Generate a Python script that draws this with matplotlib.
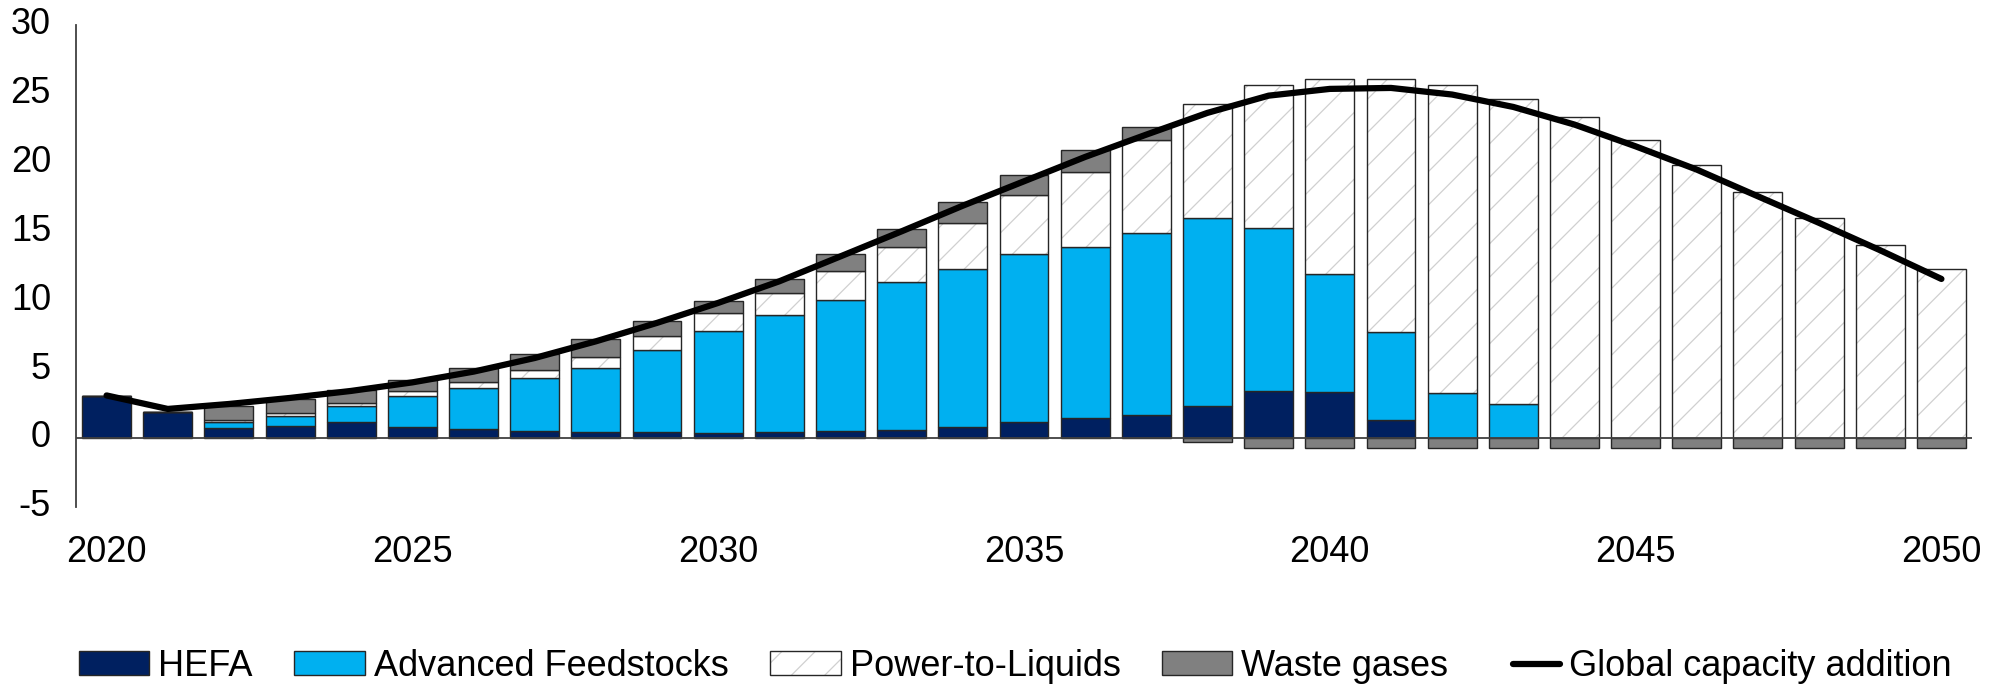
import numpy as np
import matplotlib
matplotlib.use("Agg")
import matplotlib.pyplot as plt
import matplotlib.transforms as mtransforms
from matplotlib.legend_handler import HandlerLine2D

plt.rcParams['font.family'] = ['Liberation Sans', 'DejaVu Sans']
plt.rcParams['axes.unicode_minus'] = False
plt.rcParams['hatch.linewidth'] = 0.9

# data
years = list(range(2020, 2051))
hefa = [3.09, 1.87, 0.74, 0.91, 1.15, 0.78, 0.67, 0.49, 0.45, 0.42,
        0.38, 0.42, 0.49, 0.62, 0.78, 1.15, 1.47, 1.71, 2.36, 3.45,
        3.36, 1.34, 0.0, 0.0, 0.0, 0.0, 0.0, 0.0, 0.0, 0.0, 0.0]
adv_feed = [0.0, 0.0, 0.44, 0.72, 1.16, 2.26, 2.98, 3.88, 4.65, 6.01,
            7.38, 8.50, 9.57, 10.69, 11.51, 12.23, 12.42, 13.19, 13.63, 11.82,
            8.59, 6.37, 3.28, 2.48, 0.0, 0.0, 0.0, 0.0, 0.0, 0.0, 0.0]
ptl = [0.0, 0.0, 0.11, 0.20, 0.25, 0.36, 0.43, 0.55, 0.80, 0.96,
       1.33, 1.62, 2.05, 2.58, 3.34, 4.30, 5.44, 6.73, 8.28, 10.35,
       14.16, 18.40, 22.34, 22.17, 23.33, 21.68, 19.84, 17.88, 15.96, 14.05, 12.29]
waste_gas = [0.0, 0.0, 1.02, 1.04, 0.96, 0.85, 1.02, 1.19, 1.30, 1.09,
             0.84, 1.02, 1.29, 1.32, 1.52, 1.43, 1.62, 0.97, -0.31, -0.71,
             -0.71, -0.71, -0.71, -0.71, -0.71, -0.71, -0.71, -0.71, -0.71, -0.71, -0.71]
capacity = [3.10, 2.12, 2.48, 2.92, 3.43, 4.05, 4.83, 5.82, 7.03, 8.37,
            9.82, 11.39, 13.20, 15.02, 16.88, 18.65, 20.42, 22.04, 23.62, 24.87,
            25.36, 25.43, 24.95, 24.05, 22.77, 21.19, 19.50, 17.56, 15.63, 13.64, 11.56]
labels = ['HEFA', 'Advanced Feedstocks', 'Power-to-Liquids', 'Waste gases',
          'Global capacity addition']

col_hefa = '#002060'
col_af = '#00B0F0'
col_wg = '#808080'
col_edge = '#262626'


class ShortLine(HandlerLine2D):
    # shorter legend line, pushed against its label
    def create_artists(self, legend, orig_handle, xdescent, ydescent,
                       width, height, fontsize, trans):
        new_w = width * 0.68
        return super().create_artists(legend, orig_handle, xdescent - (width - new_w),
                                      ydescent, new_w, height, fontsize, trans)


x = np.array(years)
hefa_a = np.array(hefa)
af_a = np.array(adv_feed)
ptl_a = np.array(ptl)
wg_a = np.array(waste_gas)

fig = plt.figure(figsize=(20.07, 6.84), dpi=100)
ax = fig.add_axes([76 / 2007, 1 - 507 / 684, (1972 - 76) / 2007, (507 - 25) / 684])

w = 0.8
b1 = ax.bar(x, hefa_a, w, color=col_hefa, edgecolor=col_edge, linewidth=1.0, zorder=2)
b2 = ax.bar(x, af_a, w, bottom=hefa_a, color=col_af, edgecolor=col_edge, linewidth=1.0, zorder=2)
base3 = hefa_a + af_a
b3h = ax.bar(x, ptl_a, w, bottom=base3, color='white', edgecolor='#d0d0d0',
             hatch='/', linewidth=0, zorder=2)
b3e = ax.bar(x, ptl_a, w, bottom=base3, fill=False, edgecolor=col_edge, linewidth=1.0, zorder=2)
base4 = np.where(wg_a >= 0, base3 + ptl_a, 0)
b4 = ax.bar(x, wg_a, w, bottom=base4, color=col_wg, edgecolor=col_edge, linewidth=1.0, zorder=2)

ln, = ax.plot(x, capacity, color='black', linewidth=4.5, solid_capstyle='round',
              solid_joinstyle='round', zorder=4)

ax.axhline(0, color='#404040', linewidth=1.3, zorder=3)

ax.set_xlim(2019.5, 2050.5)
ax.set_ylim(-5, 30)
ax.set_yticks(range(-5, 31, 5))
ax.set_xticks(range(2020, 2051, 5))
for s in ['top', 'right', 'bottom']:
    ax.spines[s].set_visible(False)
ax.spines['left'].set_color('#404040')
ax.spines['left'].set_linewidth(1.3)
ax.tick_params(axis='y', length=0, pad=18, labelsize=26)
ax.tick_params(axis='x', length=0, pad=20, labelsize=26)

# y labels sit slightly above their ticks in the original
offset = mtransforms.ScaledTranslation(0, 3 / 72, fig.dpi_scale_trans)
for lab in ax.get_yticklabels():
    lab.set_transform(lab.get_transform() + offset)

handles = [b1[0], b2[0], (b3h[0], b3e[0]), b4[0], ln]
fig.legend(handles, labels, loc='center', bbox_to_anchor=(0.506, 0.026), ncol=5,
           frameon=False, fontsize=26, handlelength=1.95, handleheight=0.62,
           handletextpad=0.25, columnspacing=1.15, borderpad=0,
           handler_map={ln: ShortLine()})

fig.savefig('out.png', dpi=100)
